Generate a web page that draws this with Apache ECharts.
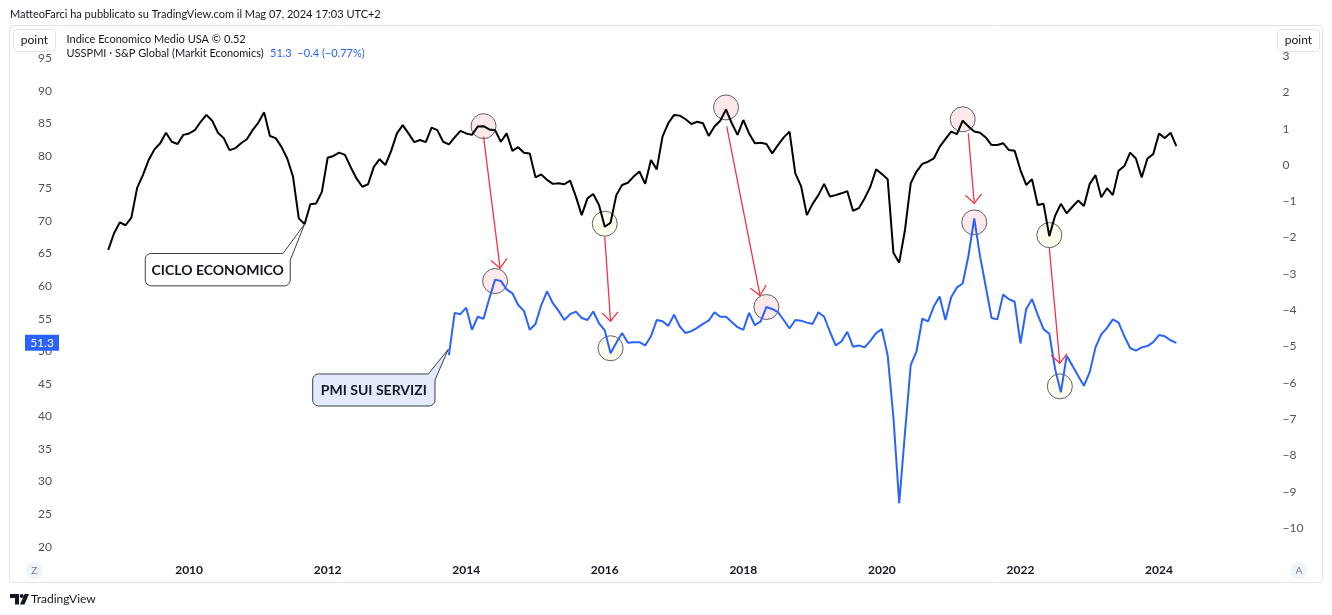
<!DOCTYPE html>
<html>
<head>
<meta charset="utf-8">
<script src="https://cdn.jsdelivr.net/npm/echarts@6/dist/echarts.min.js"></script>
<style>
html,body{margin:0;padding:0;background:#fff;}
#c{width:1332px;height:615px;}
</style>
</head>
<body>
<div id="c"></div>
<script>
// ---------------- DATA ----------------
const economicStart = '2008-11';   // first month of "Indice Economico Medio USA"
const economicIndex = [
 -2.34,-1.88,-1.58,-1.66,-1.45,-0.63,-0.28,0.14,0.43,0.60,
 0.89,0.64,0.58,0.83,0.87,0.96,1.19,1.38,1.22,0.89,
 0.74,0.41,0.46,0.60,0.71,0.96,1.17,1.45,0.80,0.74,
 0.50,0.18,-0.32,-1.47,-1.63,-1.08,-1.06,-0.74,0.20,0.25,
 0.34,0.28,-0.06,-0.37,-0.60,-0.53,-0.05,0.16,0.00,0.39,
 0.87,1.10,0.87,0.63,0.69,0.63,1.03,0.96,0.64,0.57,
 0.76,0.94,0.87,0.83,1.06,1.07,0.98,0.96,0.64,0.87,
 0.39,0.49,0.34,0.32,-0.34,-0.26,-0.41,-0.52,-0.50,-0.53,
 -0.43,-0.87,-1.38,-0.92,-0.80,-1.10,-1.70,-1.59,-0.83,-0.55,
 -0.49,-0.32,-0.18,-0.52,0.14,-0.12,0.78,1.15,1.38,1.36,
 1.26,1.13,1.19,1.15,0.80,1.06,1.22,1.53,1.15,0.83,
 1.24,0.87,0.60,0.61,0.58,0.32,0.55,0.76,0.92,-0.23,
 -0.58,-1.38,-1.07,-0.83,-0.52,-0.87,-0.83,-0.78,-0.72,-1.26,
 -1.19,-0.92,-0.60,-0.12,-0.25,-0.39,-2.42,-2.69,-1.79,-0.50,
 -0.18,0.03,0.09,0.18,0.50,0.71,0.92,0.85,1.22,1.06,
 0.92,0.89,0.76,0.55,0.55,0.60,0.41,0.39,-0.14,-0.55,
 -0.39,-1.10,-1.07,-1.96,-1.40,-1.07,-1.33,-1.15,-0.98,-1.13,
 -0.52,-0.28,-0.89,-0.64,-0.83,-0.16,-0.03,0.34,0.18,-0.34,
 0.18,0.30,0.87,0.74,0.89,0.52
];
const pmiStart = '2013-10';        // first month of USSPMI
const servicesPMI = [
 49.4,55.9,55.7,56.7,53.3,55.3,55.0,58.1,61.0,60.8,
 59.5,58.9,57.1,56.2,53.3,54.2,57.1,59.2,57.4,56.2,
 54.8,55.7,56.1,55.1,54.8,56.1,54.3,53.2,49.7,51.3,
 52.8,51.3,51.4,51.4,50.9,52.3,54.8,54.6,53.9,55.6,
 53.8,52.8,53.1,53.6,54.2,54.7,56.0,55.3,55.3,54.5,
 53.7,53.3,55.9,54.0,54.6,56.8,56.5,56.0,54.8,53.5,
 54.8,54.7,54.4,54.2,56.0,55.3,53.0,50.9,51.5,53.0,
 50.7,50.9,50.6,51.6,52.8,53.4,49.4,39.8,26.7,37.5,
 47.9,50.0,55.0,54.6,56.9,58.4,54.8,58.3,59.8,60.4,
 64.7,70.4,64.6,59.9,55.1,54.9,58.7,58.0,57.6,51.2,
 56.5,58.0,55.6,53.4,52.7,47.3,43.7,49.3,47.8,46.2,
 44.7,46.8,50.6,52.6,53.6,54.9,54.4,52.3,50.5,50.1,
 50.6,50.8,51.4,52.5,52.3,51.7,51.3
];
const yearTicks = [2010,2012,2014,2016,2018,2020,2022,2024];
const leftTicks = [20,25,30,35,40,45,50,55,60,65,70,75,80,85,90,95];
const rightTicks = [-10,-9,-8,-7,-6,-5,-4,-3,-2,-1,0,1,2,3];
// turning points: [economic index month, PMI month, kind]
const turningPoints = [
 ['2014-04','2014-06','peak'],
 ['2016-01','2016-02','trough'],
 ['2017-10','2018-05','peak'],
 ['2021-03','2021-05','peak'],
 ['2022-06','2022-08','trough']
];
const cycleLabelMonth = '2011-09';
const pmiLabelMonth = '2013-10';

// ---------------- LAYOUT / STYLE ----------------
const FONT = "Lato, 'Open Sans', sans-serif";
const X_MIN = 2008, X_MAX = 2025.631;
const GRID_LEFT = 50.54, GRID_RIGHT_EDGE = 1272;
const circleOffsets = [[0,0,0,1.4],[0,-3,0,-5],[0,-2,0,0],[0,-1.4,0,4],[0,-1,-1,-6]];
const arrowOffsets = [[0,10.5,5,-11.3],[0,10,0,-32],[0.7,17,-6.4,-11.5],[5.6,12.6,0,-15],[0,12,-1,-29]];

function parseMonth(s){ const p = s.split('-'); return [+p[0], +p[1]]; }
function monthDiff(a, b){ const A = parseMonth(a), B = parseMonth(b); return (B[0]-A[0])*12 + (B[1]-A[1]); }
function monthToYear(start, i){ const s = parseMonth(start); return s[0] + (s[1]-1+i)/12; }

const ecoData = economicIndex.map((v,i)=>[monthToYear(economicStart,i), v]);
const pmiData = servicesPMI.map((v,i)=>[monthToYear(pmiStart,i), v]);

const minus = v => (v < 0 ? '\u2212' + Math.abs(v) : String(v));

const chart = echarts.init(document.getElementById('c'), null, {renderer:'canvas'});
const option = {
  animation:false,
  backgroundColor:'#ffffff',
  textStyle:{fontFamily:FONT},
  grid:[
    {left:GRID_LEFT, width:GRID_RIGHT_EDGE-GRID_LEFT, top:25.56, height:553.74, containLabel:false, outerBoundsMode:'none'},
    {left:GRID_LEFT, width:GRID_RIGHT_EDGE-GRID_LEFT, top:19.8, height:544.5, containLabel:false, outerBoundsMode:'none'}
  ],
  xAxis:[
    {type:'value', gridIndex:0, min:X_MIN, max:X_MAX, interval:2, show:false, splitLine:{show:false}},
    {type:'value', gridIndex:1, min:X_MIN, max:X_MAX, interval:2,
     axisLine:{show:false}, axisTick:{show:false}, splitLine:{show:false},
     axisLabel:{margin:0, fontSize:12, fontWeight:'bold', color:'#131722', fontFamily:FONT,
       formatter: v => yearTicks.indexOf(Math.round(v))>=0 && Math.abs(v-Math.round(v))<1e-6 ? String(Math.round(v)) : ''}}
  ],
  yAxis:[
    {type:'value', gridIndex:0, position:'left', min:15, max:100, interval:5,
     axisLine:{show:false}, axisTick:{show:false}, splitLine:{show:false},
     axisLabel:{margin:-1.5, fontSize:12, color:'#50535e', fontFamily:FONT,
       formatter: v => leftTicks.indexOf(Math.round(v))>=0 ? String(Math.round(v)) : ''}},
    {type:'value', gridIndex:1, position:'right', min:-11, max:4, interval:1,
     axisLine:{show:false}, axisTick:{show:false}, splitLine:{show:false},
     axisLabel:{margin:10.5, fontSize:12, color:'#50535e', fontFamily:FONT,
       formatter: v => rightTicks.indexOf(Math.round(v))>=0 ? minus(Math.round(v)) : ''}}
  ],
  series:[
    {name:'USSPMI', type:'line', xAxisIndex:0, yAxisIndex:0, data:pmiData, showSymbol:false, silent:true,
     lineStyle:{color:'#2962ff', width:2}, itemStyle:{color:'#2962ff'}, z:3},
    {name:'Indice Economico Medio USA', type:'line', xAxisIndex:1, yAxisIndex:1, data:ecoData, showSymbol:false, silent:true,
     lineStyle:{color:'#000000', width:2}, itemStyle:{color:'#000000'}, z:4}
  ]
};
chart.setOption(option);

// ---------------- ANNOTATIONS ----------------
const g = [];
const txt = (x,y,text,opt={}) => g.push({type:'text', z:opt.z||20, silent:true, style:Object.assign({x:x, y:y, text:text, fill:'#131722', font:'11px '+FONT, textVerticalAlign:'middle', textAlign:'left'}, opt.style||{})});

// pane border
g.push({type:'rect', z:0, silent:true, shape:{x:9.5, y:25.5, width:1313, height:557, r:4}, style:{fill:'none', stroke:'#e0e3eb', lineWidth:1}});

// header
txt(10, 14.5, 'MatteoFarci ha pubblicato su TradingView.com il Mag 07, 2024 17:03 UTC+2');
// legend
txt(66.5, 39, 'Indice Economico Medio USA \u00A9');
txt(224, 39, '0.52');
txt(66.5, 53.5, 'USSPMI \u00B7 S&P Global (Markit Economics)');
txt(270, 53.5, '51.3  \u22120.4 (\u22120.77%)', {style:{fill:'#2962ff'}});

// point buttons
[[13.5,29.5],[1277.5,29.5]].forEach(p=>{
  g.push({type:'rect', z:18, silent:true, shape:{x:p[0], y:p[1], width:42, height:22, r:4}, style:{fill:'#ffffff', stroke:'#e0e3eb', lineWidth:1}});
  txt(p[0]+21, p[1]+11, 'point', {style:{textAlign:'center', fill:'#131722', font:'12px '+FONT}});
});

// Z / A buttons
[[34.3,'Z'],[1299,'A']].forEach(p=>{
  g.push({type:'circle', z:18, silent:true, shape:{cx:p[0], cy:570.7, r:8.5}, style:{fill:'#f0f3fa'}});
  txt(p[0], 571, p[1], {style:{textAlign:'center', fill:'#787b86', font:'10px '+FONT}});
});

// footer logo + name
g.push({type:'polygon', z:20, silent:true, shape:{points:[[10,594],[19,594],[19,604.5],[15,604.5],[15,598],[10,598]]}, style:{fill:'#131722'}});
g.push({type:'polygon', z:20, silent:true, shape:{points:[[24.5,594],[29,594],[24.5,604.5],[20,604.5]]}, style:{fill:'#131722'}});
g.push({type:'circle', z:20, silent:true, shape:{cx:21.7, cy:596, r:2}, style:{fill:'#131722'}});
txt(31, 599.5, 'TradingView', {style:{font:'12px '+FONT}});

// last value label of PMI
const lastPmi = chart.convertToPixel({seriesIndex:0}, pmiData[pmiData.length-1]);
g.push({type:'rect', z:20, silent:true, shape:{x:25, y:lastPmi[1]-8, width:34, height:16}, style:{fill:'#2962ff'}});
txt(42, lastPmi[1]+0.5, String(servicesPMI[servicesPMI.length-1]), {style:{textAlign:'center', fill:'#ffffff', font:'12px '+FONT}});

// turning point circles and arrows
const PINK = '#fde8ea', CREAM = '#fefdec', RED = '#f23645';
turningPoints.forEach((tp, i)=>{
  const ei = monthDiff(economicStart, tp[0]);
  const pi = monthDiff(pmiStart, tp[1]);
  const U = chart.convertToPixel({seriesIndex:1}, ecoData[ei]);
  const L = chart.convertToPixel({seriesIndex:0}, pmiData[pi]);
  const co = circleOffsets[i], ao = arrowOffsets[i];
  const fill = tp[2]==='peak' ? PINK : CREAM;
  g.push({type:'circle', z:1, silent:true, shape:{cx:U[0]+co[0], cy:U[1]+co[1], r:12.5}, style:{fill:fill, stroke:'#5d606b', lineWidth:1}});
  g.push({type:'circle', z:1, silent:true, shape:{cx:L[0]+co[2], cy:L[1]+co[3], r:12.5}, style:{fill:fill, stroke:'#5d606b', lineWidth:1}});
  const s = [U[0]+ao[0], U[1]+ao[1]], e = [L[0]+ao[2], L[1]+ao[3]];
  g.push({type:'line', z:12, silent:true, shape:{x1:s[0], y1:s[1], x2:e[0], y2:e[1]}, style:{stroke:RED, lineWidth:1.3}});
  const dx = e[0]-s[0], dy = e[1]-s[1], len = Math.hypot(dx,dy), ux = dx/len, uy = dy/len;
  const ang = 42*Math.PI/180, hl = 12;
  const w1 = [e[0] - hl*(ux*Math.cos(ang) - uy*Math.sin(ang)), e[1] - hl*(uy*Math.cos(ang) + ux*Math.sin(ang))];
  const w2 = [e[0] - hl*(ux*Math.cos(-ang) - uy*Math.sin(-ang)), e[1] - hl*(uy*Math.cos(-ang) + ux*Math.sin(-ang))];
  g.push({type:'polyline', z:12, silent:true, shape:{points:[w1, e, w2]}, style:{stroke:RED, lineWidth:1.3, fill:'none'}});
});

// callouts (rounded box with a tail towards the series)
function arcPts(cx, cy, r, a0, a1){
  const pts = [];
  for (let k=0;k<=6;k++){ const a = (a0 + (a1-a0)*k/6)*Math.PI/180; pts.push([cx + r*Math.cos(a), cy + r*Math.sin(a)]); }
  return pts;
}
function callout(tip, box, baseTopX, baseRightY, fill, label){
  const [x0,y0,x1,y1] = box, r = 6;
  let pts = [[x0+r,y0],[baseTopX,y0],tip,[x1,baseRightY]];
  pts = pts.concat(arcPts(x1-r, y1-r, r, 0, 90));
  pts = pts.concat(arcPts(x0+r, y1-r, r, 90, 180));
  pts = pts.concat(arcPts(x0+r, y0+r, r, 180, 270));
  g.push({type:'polygon', z:14, silent:true, shape:{points:pts}, style:{fill:fill, stroke:'#3c3f47', lineWidth:1}});
  txt((x0+x1)/2, (y0+y1)/2+0.5, label, {style:{textAlign:'center', font:'bold 14px '+FONT, fill:'#131722'}, z:15});
}
const cyc = chart.convertToPixel({seriesIndex:1}, ecoData[monthDiff(economicStart, cycleLabelMonth)]);
callout([cyc[0], cyc[1]], [cyc[0]-159.3, cyc[1]+29.3, cyc[0]-14.3, cyc[1]+61.7], cyc[0]-21.6, cyc[1]+36, '#ffffff', 'CICLO ECONOMICO');
const pm = chart.convertToPixel({seriesIndex:0}, pmiData[monthDiff(pmiStart, pmiLabelMonth)]);
callout([pm[0]-0.6, pm[1]-5.9], [pm[0]-136.2, pm[1]+18.8, pm[0]-13.9, pm[1]+50.8], pm[0]-20.6, pm[1]+24.8, '#e3eafc', 'PMI SUI SERVIZI');

chart.setOption({graphic:{elements:g}});
</script>
</body>
</html>
